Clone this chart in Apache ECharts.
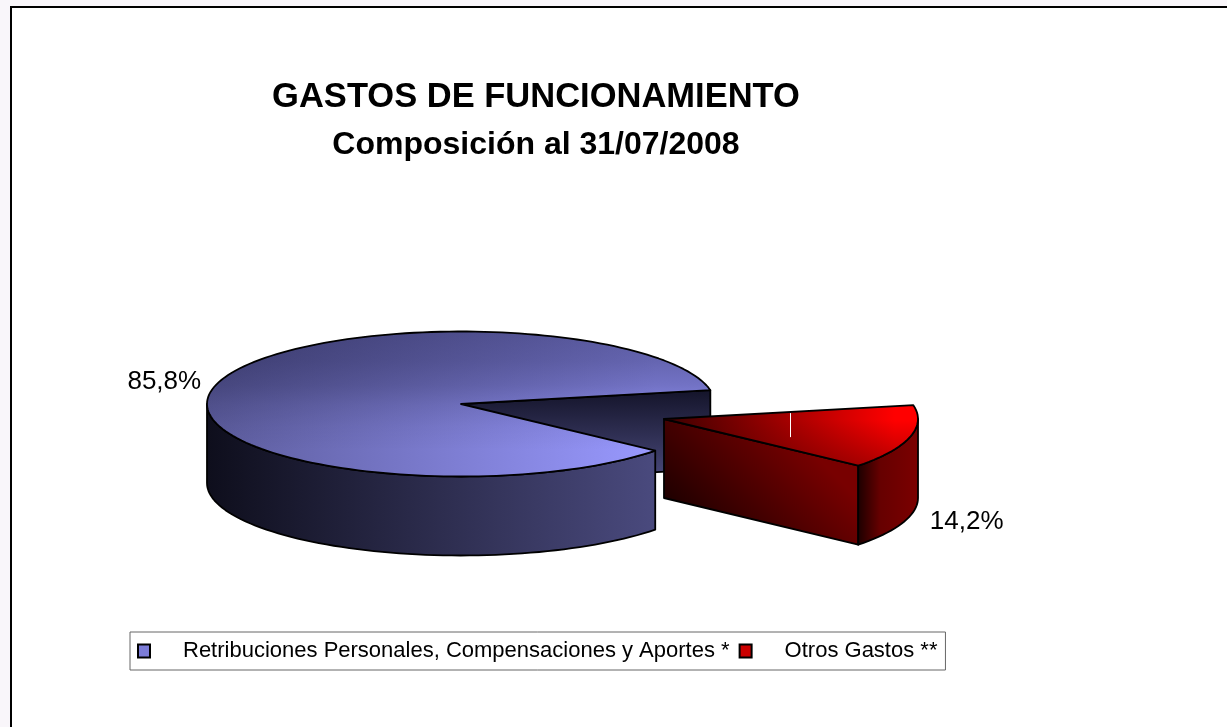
<!DOCTYPE html>
<html>
<head>
<meta charset="utf-8">
<title>Gastos de funcionamiento</title>
<script src="https://cdn.jsdelivr.net/npm/echarts@6/dist/echarts.min.js"></script>
<style>
    html, body { margin: 0; padding: 0; background: #f9f6fa; }
    #chart { width: 1227px; height: 727px; }
</style>
</head>
<body>
<div id="chart"></div>
<script>
// datos
const categories = ["Retribuciones Personales, Compensaciones y Aportes *", "Otros Gastos **"];
const shares = [85.8, 14.2];

// el corte de "Otros Gastos" arranca 11 grados sobre la horizontal
const startAngle = 11;
const pie = { cx: 461, cy: 404, rx: 254, ry: 72.5, depth: 79 };
const explode = [[0, 0], [203, 15]];
const labelOffset = [[-14, -4], [20, 85]];

function linear(x, y, x2, y2, stops) {
    return { type: "linear", x: x, y: y, x2: x2, y2: y2, global: true,
        colorStops: stops.map(function (s) { return { offset: s[0], color: s[1] }; }) };
}

// rangos angulares en sentido antihorario, derivados de los porcentajes
function sliceRange(index) {
    const total = shares[0] + shares[1];
    const redSpan = shares[1] / total * 360;
    if (index === 1) {
        return [startAngle - redSpan, startAngle];
    }
    return [startAngle, startAngle + 360 - redSpan];
}

function pt(deg, ox, oy, drop) {
    const a = deg * Math.PI / 180;
    return [pie.cx + ox + pie.rx * Math.cos(a), pie.cy + oy - pie.ry * Math.sin(a) + (drop || 0)];
}

function arc(from, to, ox, oy, drop) {
    let pts = [];
    const steps = Math.max(2, Math.ceil(Math.abs(to - from) / 2));
    for (let i = 0; i <= steps; i++) {
        pts.push(pt(from + (to - from) * i / steps, ox, oy, drop));
    }
    return pts;
}

function poly(points, fill, stroke) {
    return {
        type: "polygon",
        shape: { points: points },
        style: { fill: fill, stroke: stroke ? "#000" : "none", lineWidth: 1.8, lineJoin: "round" }
    };
}

const paint = [
    {
        top: linear(207, 0, 656, 0, [[0, "#5c5c9c"], [1, "#9999ff"]]),
        shade: linear(0, 332, 0, 450, [
            [0, "rgba(10,10,40,0.42)"],
            [0.25, "rgba(10,10,40,0.36)"],
            [0.45, "rgba(10,10,40,0.27)"],
            [0.62, "rgba(10,10,40,0.15)"],
            [0.8, "rgba(10,10,40,0.06)"],
            [1, "rgba(10,10,40,0)"]
        ]),
        wall: linear(207, 0, 656, 0, [[0, "#0e0e1c"], [1, "#4a4a7e"]]),
        face: linear(0, 390, 0, 480, [[0, "#14142a"], [1, "#4a4a7c"]])
    },
    {
        top: linear(664, 0, 895, 0, [[0, "#3c0000"], [1, "#ff0000"]]),
        shade: linear(0, 420, 0, 466, [[0, "rgba(60,0,0,0)"], [1, "rgba(60,0,0,0.38)"]]),
        wall: linear(859, 0, 919, 0, [[0, "#200000"], [0.35, "#660000"], [1, "#7c0000"]]),
        face: linear(700, 540, 800, 440, [[0, "#1c0000"], [1, "#780000"]])
    }
];

function renderSlice(index) {
    return function () {
        const range = sliceRange(index);
        const from = range[0], to = range[1];
        const ox = explode[index][0], oy = explode[index][1];
        const d = pie.depth;
        const c = [pie.cx + ox, pie.cy + oy];
        const cd = [c[0], c[1] + d];
        let children = [];

        // caras del corte que miran al observador
        [[from, Math.sin((from - 90) * Math.PI / 180) < 0], [to, Math.sin((to + 90) * Math.PI / 180) < 0]].forEach(function (f) {
            if (f[1]) {
                children.push(poly([c, pt(f[0], ox, oy), pt(f[0], ox, oy, d), cd], paint[index].face, true));
            }
        });

        // pared exterior: solo la mitad inferior de la elipse
        const wallFrom = index === 1 ? from : Math.max(from, 180);
        const wallTo = index === 1 ? Math.min(to, 0) : Math.min(to, 360);
        const lower = arc(wallFrom, wallTo, ox, oy);
        const upper = arc(wallTo, wallFrom, ox, oy, d);
        children.push(poly(lower.concat(upper), paint[index].wall, true));

        // tapa
        const rim = arc(from, to, ox, oy);
        const topPts = [c].concat(rim);
        children.push(poly(topPts, paint[index].top, false));
        children.push(poly(topPts, paint[index].shade, true));

        // etiqueta en el angulo medio
        const mid = (from + to) / 2;
        const anchor = pt(mid, ox, oy);
        const lx = anchor[0] + labelOffset[index][0];
        const ly = anchor[1] + labelOffset[index][1];
        if (index === 1) {
            // linea guia blanca en el centro del sector
            const half = [c[0] + (anchor[0] - c[0]) / 2, c[1] + (anchor[1] - c[1]) / 2];
            const gx = Math.round(half[0] + 3) + 0.5;
            children.push({
                type: "line",
                shape: { x1: gx, y1: half[1] - 15, x2: gx, y2: half[1] + 9 },
                style: { stroke: "#fff", lineWidth: 1 }
            });
        }
        children.push({
            type: "text",
            style: {
                x: lx, y: ly,
                text: shares[index].toFixed(1).replace(".", ",") + "%",
                fill: "#000",
                font: "26px 'Liberation Sans'",
                align: index === 1 ? "left" : "right",
                verticalAlign: "middle"
            }
        });
        return { type: "group", children: children };
    };
}

const chart = echarts.init(document.getElementById("chart"), null, { renderer: "canvas" });
chart.setOption({
    animation: false,
    backgroundColor: "transparent",
    title: {
        text: "GASTOS DE FUNCIONAMIENTO",
        subtext: "Composición al 31/07/2008",
        left: 536,
        top: 80,
        textAlign: "center",
        padding: 0,
        itemGap: 14,
        textStyle: { fontFamily: "Liberation Sans", fontWeight: "bold", fontSize: 34.5, color: "#000" },
        subtextStyle: { fontFamily: "Liberation Sans", fontWeight: "bold", fontSize: 32, color: "#000" }
    },
    legend: {
        left: 130,
        top: 632,
        padding: [8, 8, 8, 7],
        itemGap: 9,
        itemWidth: 12,
        itemHeight: 13,
        icon: "rect",
        borderColor: "#666",
        borderWidth: 1,
        backgroundColor: "#fff",
        textStyle: { fontFamily: "Liberation Sans", fontSize: 22, color: "#000", padding: [0, 0, 0, 28] },
        data: categories
    },
    graphic: [{
        type: "rect",
        z: -10,
        shape: { x: 11, y: 7, width: 1300, height: 800 },
        style: { fill: "#fff", stroke: "#000", lineWidth: 2 }
    }],
    series: [0, 1].map(function (i) {
        return {
            type: "custom",
            name: categories[i],
            coordinateSystem: "none",
            silent: true,
            itemStyle: {
                color: i === 0 ? "#7c7cd8" : "#cc0000",
                borderColor: "#000",
                borderWidth: 1
            },
            data: [shares[i]],
            renderItem: renderSlice(i)
        };
    })
});
</script>
</body>
</html>
